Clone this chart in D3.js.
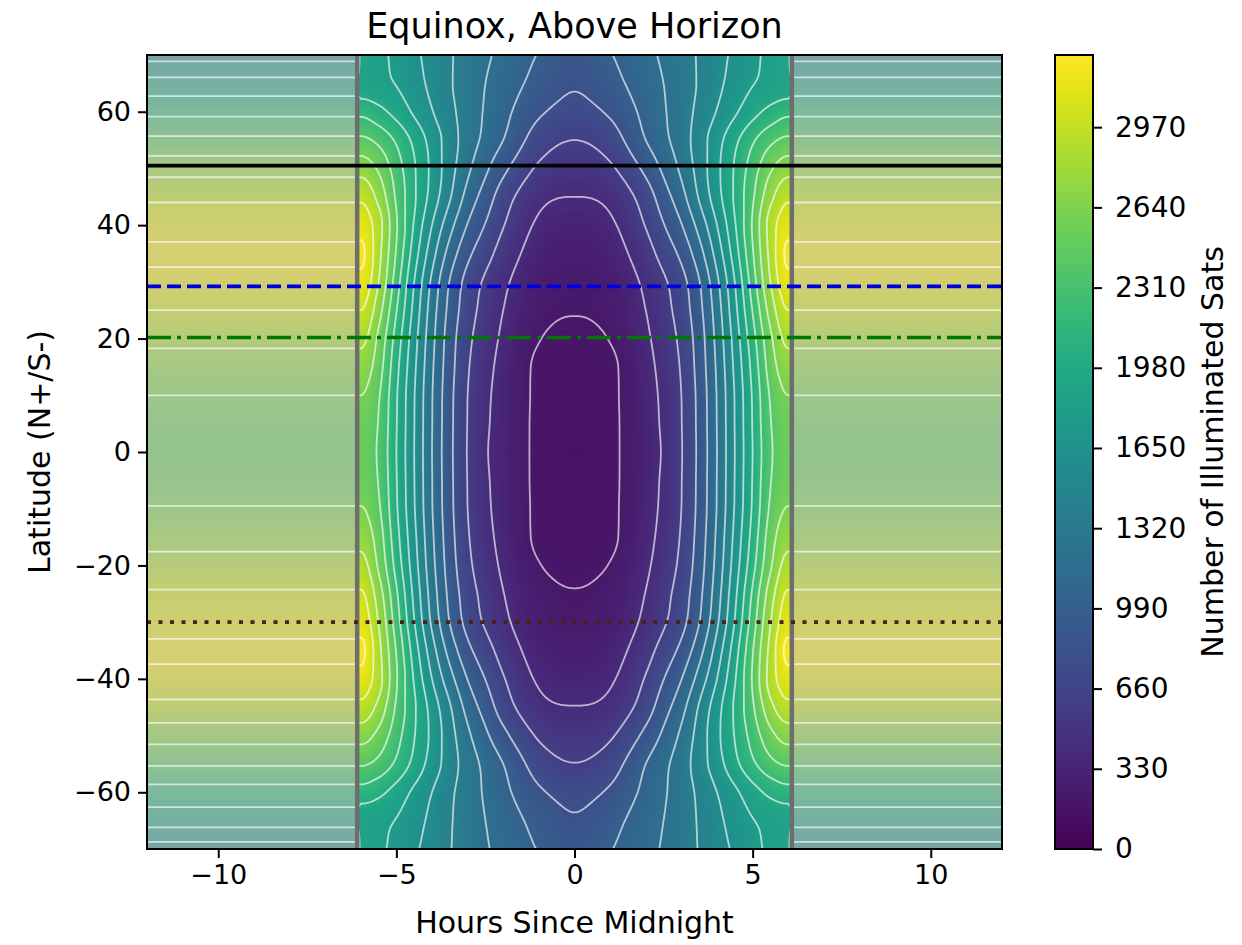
<!DOCTYPE html>
<html>
<head>
<meta charset="utf-8">
<script src="https://cdn.jsdelivr.net/npm/d3@7"></script>
<style>
  body { margin: 0; background: #fff; }
  svg text { font-family: "DejaVu Sans", sans-serif; fill: #000; }
</style>
</head>
<body>
<svg id="chart" width="1242" height="945"></svg>
<script>
// latitude rows, north to south (deg)
var latitudes = [70, 65, 60, 55, 50, 45, 40, 35, 30, 25, 20, 15, 10, 5, 0,
                 -5, -10, -15, -20, -25, -30, -35, -40, -45, -50, -55, -60, -65, -70];

// hours from midnight on the night side (same both sides of midnight)
var nightHours = [0, 1, 2, 2.5, 3, 3.5, 4, 4.5, 5, 5.5, 6];

// illuminated sats above horizon, night side, one row per latitude
var nightCounts = [
    [880, 990, 1150, 1230, 1320, 1420, 1530, 1640, 1750, 1850, 1900],
    [820, 930, 1110, 1200, 1300, 1420, 1550, 1680, 1790, 1860, 1890],
    [740, 830, 1060, 1180, 1310, 1450, 1610, 1770, 1930, 2060, 2150],
    [600, 700, 1000, 1150, 1300, 1500, 1720, 1950, 2170, 2350, 2440],
    [500, 570, 850, 1040, 1240, 1480, 1750, 2020, 2300, 2570, 2720],
    [400, 450, 700, 910, 1130, 1420, 1720, 2030, 2370, 2740, 2960],
    [320, 370, 610, 790, 990, 1270, 1600, 1980, 2420, 2880, 3130],
    [260, 310, 520, 675, 850, 1120, 1480, 1900, 2380, 2860, 3230],
    [225, 260, 440, 570, 730, 990, 1360, 1800, 2300, 2800, 3150],
    [205, 240, 400, 530, 690, 940, 1300, 1740, 2210, 2680, 3000],
    [180, 205, 370, 490, 650, 900, 1260, 1680, 2120, 2560, 2850],
    [165, 180, 345, 460, 620, 880, 1230, 1640, 2060, 2490, 2710],
    [160, 178, 330, 440, 600, 860, 1210, 1610, 2020, 2420, 2600],
    [155, 175, 325, 430, 595, 855, 1205, 1605, 2010, 2390, 2530],
    [150, 175, 310, 420, 590, 850, 1200, 1600, 2000, 2370, 2520],
    [155, 175, 325, 430, 595, 855, 1205, 1605, 2010, 2390, 2530],
    [160, 178, 330, 440, 600, 860, 1210, 1615, 2025, 2430, 2610],
    [165, 180, 345, 460, 620, 880, 1235, 1650, 2070, 2500, 2730],
    [180, 205, 370, 490, 650, 905, 1265, 1690, 2130, 2570, 2870],
    [205, 245, 405, 535, 695, 945, 1310, 1750, 2230, 2700, 3020],
    [230, 265, 445, 575, 735, 995, 1365, 1810, 2300, 2790, 3120],
    [265, 315, 525, 680, 855, 1125, 1485, 1905, 2385, 2860, 3240],
    [325, 375, 615, 795, 995, 1275, 1600, 1980, 2420, 2880, 3130],
    [405, 455, 705, 915, 1130, 1420, 1720, 2030, 2370, 2740, 2940],
    [505, 575, 855, 1040, 1240, 1480, 1750, 2010, 2280, 2540, 2680],
    [605, 705, 1000, 1150, 1300, 1500, 1710, 1940, 2160, 2340, 2420],
    [740, 830, 1055, 1175, 1300, 1440, 1600, 1760, 1920, 2050, 2120],
    [820, 930, 1110, 1200, 1300, 1420, 1550, 1680, 1790, 1860, 1890],
    [880, 990, 1140, 1220, 1310, 1410, 1520, 1630, 1740, 1840, 1890]
];

// fully sunlit count per latitude (|hours| >= 6.1)
var sunlitCounts = [1520, 1870, 2150, 2440, 2720, 2960, 3130, 3220, 3150, 3000, 2850, 2710, 2600, 2530, 2510,
                    2530, 2610, 2730, 2870, 3020, 3120, 3230, 3130, 2940, 2680, 2420, 2120, 1880, 1500];

var countMax = 3267;
var sunsetHour = 6.1;
var contourLevels = [200, 400, 600, 800, 1000, 1200, 1400, 1600, 1800, 2000, 2200, 2400, 2600, 2800, 3000, 3200];

var xTicks = [-10, -5, 0, 5, 10];
var yTicks = [-60, -40, -20, 0, 20, 40, 60];
var cbarTicks = [0, 330, 660, 990, 1320, 1650, 1980, 2310, 2640, 2970];

// reference latitudes drawn as horizontal lines
var refLats = [50.5, 29.2, 20.2, -30];

var svg = d3.select("#chart");
var L = 147, R = 1002, T = 55, B = 849;

var x = d3.scaleLinear().domain([-12, 12]).range([L, R]);
var y = d3.scaleLinear().domain([-70, 70]).range([B, T]);
var color = d3.scaleSequential(d3.interpolateViridis).domain([0, countMax]);

// full grid: mirror night hours around midnight, sunlit from 6.1 h out
var cols = [-12, -sunsetHour];
for (var k = nightHours.length - 1; k > 0; k--) cols.push(-nightHours[k]);
cols = cols.concat(nightHours, [sunsetHour, 12]);

var latAsc = latitudes.slice().reverse();
var gridAsc = latitudes.map(function (lat, r) {
    return cols.map(function (h) {
        var a = Math.abs(h);
        return a > 6 ? sunlitCounts[r] : nightCounts[r][nightHours.indexOf(a)];
    });
}).reverse();

// monotone cubic (Fritsch-Carlson) along one axis, for smooth shading
function slopes(xs, ys) {
    var n = xs.length, d = [], m = [];
    for (var i = 0; i < n - 1; i++) d.push((ys[i + 1] - ys[i]) / (xs[i + 1] - xs[i]));
    m[0] = d[0]; m[n - 1] = d[n - 2];
    for (var i = 1; i < n - 1; i++) m[i] = d[i - 1] * d[i] <= 0 ? 0 : (d[i - 1] + d[i]) / 2;
    for (var i = 0; i < n - 1; i++) {
        if (d[i] === 0) { m[i] = 0; m[i + 1] = 0; continue; }
        var a = m[i] / d[i], b = m[i + 1] / d[i], s = a * a + b * b;
        if (s > 9) { var t = 3 / Math.sqrt(s); m[i] = t * a * d[i]; m[i + 1] = t * b * d[i]; }
    }
    return m;
}
function hermite(xs, ys, ms, xv) {
    var i = Math.max(0, Math.min(xs.length - 2, d3.bisectRight(xs, xv) - 1));
    var h = xs[i + 1] - xs[i], t = Math.max(0, Math.min(1, (xv - xs[i]) / h));
    var t2 = t * t, t3 = t2 * t;
    return (2 * t3 - 3 * t2 + 1) * ys[i] + (t3 - 2 * t2 + t) * h * ms[i] +
           (-2 * t3 + 3 * t2) * ys[i + 1] + (t3 - t2) * h * ms[i + 1];
}
var rowSlopes = gridAsc.map(function (row) { return slopes(cols, row); });

function columnAt(h) {
    return gridAsc.map(function (row, j) { return hermite(cols, row, rowSlopes[j], h); });
}

// heat map raster
var pw = R - L, ph = B - T;
var canvas = document.createElement("canvas");
canvas.width = pw; canvas.height = ph;
var ctx = canvas.getContext("2d");
var img = ctx.createImageData(pw, ph);
var lut = d3.range(512).map(function (k) { return d3.rgb(color(k / 511 * countMax)); });
for (var px = 0; px < pw; px++) {
    var col = columnAt(x.invert(L + px + 0.5));
    var ms = slopes(latAsc, col);
    for (var py = 0; py < ph; py++) {
        var v = hermite(latAsc, col, ms, y.invert(T + py + 0.5));
        var c = lut[Math.max(0, Math.min(511, Math.round(v / countMax * 511)))];
        var o = (py * pw + px) * 4;
        img.data[o] = c.r; img.data[o + 1] = c.g; img.data[o + 2] = c.b; img.data[o + 3] = 255;
    }
}
ctx.putImageData(img, 0, 0);

var defs = svg.append("defs");
defs.append("clipPath").attr("id", "plotclip")
    .append("rect").attr("x", L).attr("y", T).attr("width", pw).attr("height", ph);

svg.append("image")
    .attr("x", L).attr("y", T).attr("width", pw).attr("height", ph)
    .attr("preserveAspectRatio", "none")
    .attr("href", canvas.toDataURL());

// sunlit shading
svg.append("g").selectAll("rect").data([[-12, -sunsetHour], [sunsetHour, 12]]).join("rect")
    .attr("x", function (d) { return x(d[0]); })
    .attr("y", T)
    .attr("width", function (d) { return x(d[1]) - x(d[0]); })
    .attr("height", ph)
    .attr("fill", "#bdbdb8")
    .attr("fill-opacity", 0.55);

// contour lines
var nx = 961, ny = 281, dh = 24 / (nx - 1), dl = 140 / (ny - 1);
var values = new Array(nx * ny);
for (var ii = 0; ii < nx; ii++) {
    var colv = columnAt(-12 + ii * dh);
    var msv = slopes(latAsc, colv);
    for (var jj = 0; jj < ny; jj++) {
        values[jj * nx + ii] = hermite(latAsc, colv, msv, 70 - jj * dl);
    }
}
var contours = d3.contours().size([nx, ny]).thresholds(contourLevels)(values);
var proj = d3.geoTransform({
    point: function (cx, cy) {
        this.stream.point(x(-12 + (cx - 0.5) * dh), y(70 - (cy - 0.5) * dl));
    }
});
var path = d3.geoPath(proj);

svg.append("g").attr("clip-path", "url(#plotclip)")
    .selectAll("path").data(contours).join("path")
    .attr("d", path)
    .attr("fill", "none")
    .attr("stroke", "#fff")
    .attr("stroke-opacity", 0.65)
    .attr("stroke-width", 1.8)
    .attr("stroke-linejoin", "round");

svg.append("g").selectAll("line").data([-sunsetHour, sunsetHour]).join("line")
    .attr("x1", function (d) { return x(d); }).attr("x2", function (d) { return x(d); })
    .attr("y1", T).attr("y2", B)
    .attr("stroke", "#6e6e6e")
    .attr("stroke-width", 4.5);

// reference latitude lines
var refStyle = [
    { stroke: "#000", dash: null },
    { stroke: "#0000e6", dash: "14,6" },
    { stroke: "#007800", dash: "24,6,4,6" },
    { stroke: "#4a2216", dash: "4,7.5" }
];
svg.append("g").selectAll("line").data(refLats).join("line")
    .attr("x1", L).attr("x2", R)
    .attr("y1", function (d) { return y(d); }).attr("y2", function (d) { return y(d); })
    .attr("stroke", function (d, i) { return refStyle[i].stroke; })
    .attr("stroke-dasharray", function (d, i) { return refStyle[i].dash; })
    .attr("stroke-width", 3.6);

// frame
svg.append("rect").attr("x", L).attr("y", T).attr("width", pw).attr("height", ph)
    .attr("fill", "none").attr("stroke", "#000").attr("stroke-width", 2);

function fmt(d) { return d < 0 ? "\u2212" + (-d) : String(d); }

var xAxis = svg.append("g").attr("transform", "translate(0," + B + ")")
    .call(d3.axisBottom(x).tickValues(xTicks).tickSize(9).tickPadding(7).tickFormat(fmt));
var yAxis = svg.append("g").attr("transform", "translate(" + L + ",0)")
    .call(d3.axisLeft(y).tickValues(yTicks).tickSize(9).tickPadding(7).tickFormat(fmt));
[xAxis, yAxis].forEach(function (g) {
    g.select(".domain").remove();
    g.selectAll(".tick line").attr("stroke", "#000").attr("stroke-width", 2);
    g.selectAll(".tick text").attr("font-size", 27).attr("fill", "#000");
});

// colorbar
var CL = 1055, CR = 1093;
var cy = d3.scaleLinear().domain([0, countMax]).range([B, T]);
var grad = defs.append("linearGradient").attr("id", "cbar")
    .attr("x1", 0).attr("y1", 1).attr("x2", 0).attr("y2", 0);
grad.selectAll("stop").data(d3.range(0, 1.0001, 0.02)).join("stop")
    .attr("offset", function (t) { return t; })
    .attr("stop-color", function (t) { return color(t * countMax); });
svg.append("rect").attr("x", CL).attr("y", T).attr("width", CR - CL).attr("height", ph)
    .attr("fill", "url(#cbar)").attr("stroke", "#000").attr("stroke-width", 2);
var cAxis = svg.append("g").attr("transform", "translate(" + CR + ",0)")
    .call(d3.axisRight(cy).tickValues(cbarTicks).tickSize(9).tickPadding(13).tickFormat(d3.format("d")));
cAxis.select(".domain").remove();
cAxis.selectAll(".tick line").attr("stroke", "#000").attr("stroke-width", 2);
cAxis.selectAll(".tick text").attr("font-size", 28).attr("fill", "#000");

// titles
svg.append("text").attr("x", (L + R) / 2).attr("y", 38)
    .attr("text-anchor", "middle").attr("font-size", 35)
    .text("Equinox, Above Horizon");
svg.append("text").attr("x", (L + R) / 2).attr("y", 933)
    .attr("text-anchor", "middle").attr("font-size", 30)
    .text("Hours Since Midnight");
svg.append("text").attr("transform", "translate(50," + (T + B) / 2 + ") rotate(-90)")
    .attr("text-anchor", "middle").attr("font-size", 30)
    .text("Latitude (N+/S-)");
svg.append("text").attr("transform", "translate(1223," + (T + B) / 2 + ") rotate(-90)")
    .attr("text-anchor", "middle").attr("font-size", 30)
    .text("Number of Illuminated Sats");
</script>
</body>
</html>
